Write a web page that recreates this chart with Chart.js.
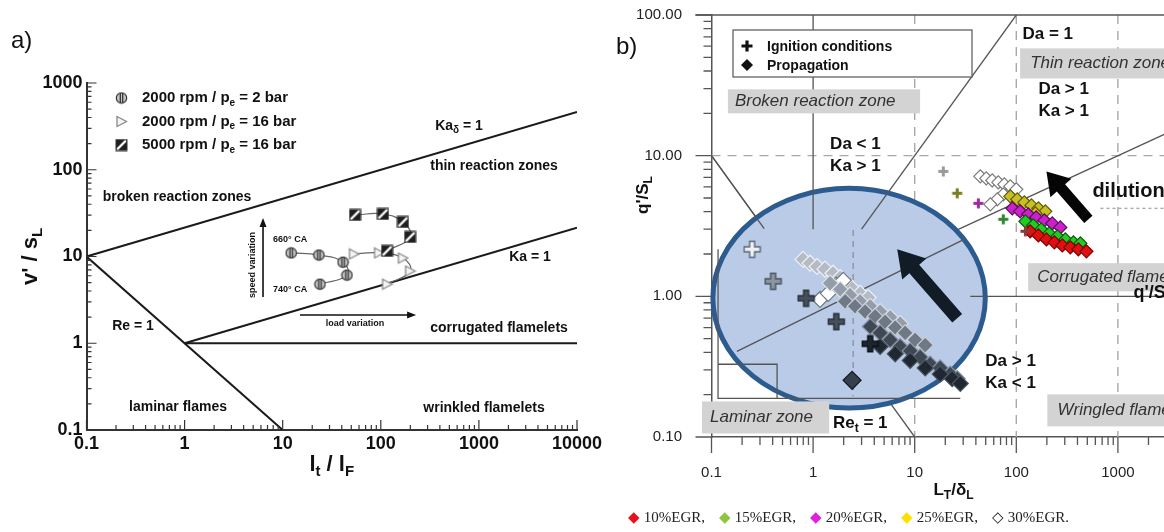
<!DOCTYPE html>
<html>
<head>
<meta charset="utf-8">
<script src="https://cdn.jsdelivr.net/npm/chart.js@4.4.0/dist/chart.umd.min.js"></script>
<style>
  html, body { margin: 0; padding: 0; background: #fff; overflow: hidden; }
  #wrap { position: relative; width: 1164px; height: 532px; overflow: hidden; }
  #chartA { position: absolute; left: 0; top: 0; }
  #chartB { position: absolute; left: 600px; top: 0; }
  .tag { position: absolute; font: 24px "Liberation Sans", Arial, sans-serif; color: #111; }
  #egr { position: absolute; left: 628px; top: 508px; font: 15px "Liberation Serif", "Times New Roman", serif; color: #222; white-space: nowrap; }
  #egr span.item { margin-right: 14px; }
</style>
</head>
<body>
<div id="wrap">
  <canvas id="chartA" width="610" height="532"></canvas>
  <canvas id="chartB" width="700" height="532"></canvas>
  <div class="tag" style="left:11px;top:26px;">a)</div>
  <div class="tag" style="left:616px;top:32px;">b)</div>
  <div id="egr"><span class="item"><span style="color:#e8101c">◆</span> 10%EGR,</span><span class="item"><span style="color:#8cc63f">◆</span> 15%EGR,</span><span class="item"><span style="color:#e020e0">◆</span> 20%EGR,</span><span class="item"><span style="color:#ffe000">◆</span> 25%EGR,</span><span>◇ 30%EGR.</span></div>
</div>
<script>
// ---------- panel a: regime diagram ----------
const ticksAX = [0.1, 1, 10, 100, 1000, 10000];
const ticksAY = [0.1, 1, 10, 100, 1000];

const kaDeltaX = [0.1, 10000];
const kaDeltaY = [10, 464];
const reAX = [0.1, 10];
const reAY = [10, 0.1];
const kaAX = [1, 10000];
const kaAY = [1, 21.5];
const flatAX = [1, 10000];
const flatAY = [1, 1];

const lowLoadX = [12.2, 23.4, 41.2, 45.2, 24.0];
const lowLoadY = [11.0, 10.4, 8.6, 6.1, 4.8];
const highLoadX = [53.3, 95.9, 168, 199, 116];
const highLoadY = [10.7, 11.0, 9.6, 6.8, 4.8];
const highSpeedX = [54.6, 105, 168, 199, 116];
const highSpeedY = [30.1, 30.9, 25.0, 16.8, 11.6];

// ---------- panel b: regime diagram with EGR points ----------
const ticksBX = [0.1, 1, 10, 100, 1000, 10000];
const ticksBY = [0.1, 1, 10, 100];

const egr10X = [137, 165, 198, 237, 284, 340, 408, 490];
const egr10Y = [2.90, 2.71, 2.54, 2.42, 2.30, 2.23, 2.16, 2.09];
const egr15X = [123, 147, 176, 211, 254, 304, 365, 427];
const egr15Y = [3.41, 3.20, 2.99, 2.80, 2.67, 2.54, 2.42, 2.38];
const egr20X = [91.4, 109, 131, 157, 189, 226, 271];
const egr20Y = [4.22, 4.02, 3.83, 3.64, 3.47, 3.30, 3.09];
const egr25X = [87.3, 102, 120, 141, 165, 193, 154];
const egr25Y = [5.14, 4.89, 4.66, 4.43, 4.22, 4.02, 3.89];
const egr30X = [44.2, 50.6, 58.0, 66.5, 76.2, 87.3, 100, 74.5, 65.0, 55.5];
const egr30Y = [7.13, 6.90, 6.67, 6.46, 6.25, 6.05, 5.76, 5.31, 4.89, 4.51];
const ignitionX = [19.1, 26.2, 42.3, 74.5, 123];
const ignitionY = [7.73, 5.40, 4.58, 3.53, 2.90];

// magnified (inset) view inside the blue circle
const insetLightX = [0.796, 0.933, 1.094, 1.31, 1.57, 1.85, 2.11, 2.42, 2.90, 3.48];
const insetLightY = [1.83, 1.72, 1.63, 1.56, 1.46, 1.36, 1.24, 1.14, 1.05, 0.98];
const insetWhiteX = [1.17, 1.41, 1.69, 1.98];
const insetWhiteY = [0.95, 1.05, 1.20, 1.30];
const insetGreyX = [1.47, 1.85, 2.31, 2.90, 3.65, 4.57, 5.74, 7.19];
const insetGreyY = [1.24, 1.12, 1.02, 0.92, 0.85, 0.78, 0.71, 0.64];
const insetMidX = [2.07, 2.59, 3.25, 4.08, 5.12, 6.43, 8.05, 10.1, 12.7];
const insetMidY = [0.92, 0.85, 0.78, 0.72, 0.66, 0.60, 0.55, 0.49, 0.45];
const insetDarkX = [3.65, 4.57, 5.74, 7.19, 9.03, 11.3, 14.2, 17.8, 22.4, 26.2];
const insetDarkY = [0.61, 0.55, 0.49, 0.44, 0.41, 0.37, 0.33, 0.31, 0.28, 0.26];
const insetDarkestX = [4.57, 6.43, 9.03, 12.7, 17.8, 23.4, 28.1];
const insetDarkestY = [0.44, 0.39, 0.35, 0.31, 0.28, 0.26, 0.24];
const insetIgnX = [0.251, 0.404, 0.853, 1.69, 3.65];
const insetIgnY = [2.16, 1.28, 0.97, 0.66, 0.46];
const insetPropX = [2.42];
const insetPropY = [0.253];

// regime boundaries of panel b
const kaOutX = [1, 10000];
const kaOutY = [1, 21.5];
const reBX = [0.1, 10];
const reBY = [10, 0.1];
const reTopX = [0.1, 0.33];
const reTopY = [10, 3.03];
const daX = [3, 100];
const daY = [3, 100];
const unityX = [1, 1];
const unityY = [3, 100];
const flatBX = [35.2, 10000];
const flatBY = [1, 1];
const kaInsetX = [0.178, 31];
const kaInsetY = [0.406, 2.55];
const frameX = [0.116, 0.116, 28.1];
const frameY = [2.16, 0.188, 0.188];
const cornerX = [0.116, 0.442, 0.442];
const cornerY = [0.329, 0.329, 0.188];
const markerX = [2.48, 2.48];
const markerY = [2.96, 0.195];

const FAMILY = '"Liberation Sans", Arial, Helvetica, sans-serif';
Chart.defaults.font.family = FAMILY;

function zip(xs, ys) {
  return xs.map((x, i) => ({ x, y: ys[i] }));
}

function makeSymbol(w, h, draw) {
  const c = document.createElement('canvas');
  c.width = w;
  c.height = h;
  draw(c.getContext('2d'));
  return c;
}

function makePlus(size, arm, fill, stroke) {
  return makeSymbol(size + 3, size + 3, (g) => {
    const o = 1.5, a = (size - arm) / 2;
    g.beginPath();
    g.moveTo(o + a, o); g.lineTo(o + a + arm, o); g.lineTo(o + a + arm, o + a);
    g.lineTo(o + size, o + a); g.lineTo(o + size, o + a + arm); g.lineTo(o + a + arm, o + a + arm);
    g.lineTo(o + a + arm, o + size); g.lineTo(o + a, o + size); g.lineTo(o + a, o + a + arm);
    g.lineTo(o, o + a + arm); g.lineTo(o, o + a); g.lineTo(o + a, o + a);
    g.closePath();
    g.fillStyle = fill;
    g.fill();
    if (stroke) {
      g.strokeStyle = stroke;
      g.lineWidth = 1.4;
      g.stroke();
    }
  });
}

const circSym = makeSymbol(13, 13, (g) => {
  g.beginPath();
  g.arc(6.5, 6.5, 5.2, 0, Math.PI * 2);
  g.fillStyle = '#c6c6c6';
  g.fill();
  g.strokeStyle = '#333';
  g.lineWidth = 1.2;
  g.stroke();
  g.beginPath();
  g.moveTo(5.3, 2); g.lineTo(5.3, 11);
  g.moveTo(7.7, 2); g.lineTo(7.7, 11);
  g.lineWidth = 1.3;
  g.stroke();
});
const triSym = makeSymbol(13, 13, (g) => {
  g.beginPath();
  g.moveTo(2, 1.5); g.lineTo(11.5, 6.5); g.lineTo(2, 11.5);
  g.closePath();
  g.fillStyle = '#f4f4f4';
  g.fill();
  g.strokeStyle = '#8a8a8a';
  g.lineWidth = 1.3;
  g.stroke();
});
const sqSym = makeSymbol(13, 13, (g) => {
  g.fillStyle = '#1e1e1e';
  g.fillRect(1, 1, 11, 11);
  g.strokeStyle = '#fff';
  g.lineWidth = 2.4;
  g.beginPath();
  g.moveTo(2, 11); g.lineTo(11, 2);
  g.stroke();
  g.strokeStyle = '#333';
  g.lineWidth = 1;
  g.strokeRect(1, 1, 11, 11);
});

// text with subscripts: parts = [[text, isSub], ...]
function rich(ctx, parts, x, y, size, opts = {}) {
  const fontOf = (sub) =>
    `${opts.italic ? 'italic ' : ''}${opts.weight || 'bold'} ${sub ? Math.round(size * 0.68) : size}px ${FAMILY}`;
  let total = 0;
  parts.forEach(([t, sub]) => {
    ctx.font = fontOf(sub);
    total += ctx.measureText(t).width;
  });
  let cx = opts.align === 'center' ? x - total / 2 : x;
  ctx.textAlign = 'left';
  ctx.textBaseline = 'middle';
  ctx.fillStyle = opts.color || '#111';
  parts.forEach(([t, sub]) => {
    ctx.font = fontOf(sub);
    ctx.fillText(t, cx, sub ? y + size * 0.33 : y);
    cx += ctx.measureText(t).width;
  });
}

function arrow(ctx, x1, y1, x2, y2, shaft, head, headLen, color) {
  const ang = Math.atan2(y2 - y1, x2 - x1);
  const len = Math.hypot(x2 - x1, y2 - y1);
  ctx.save();
  ctx.translate(x1, y1);
  ctx.rotate(ang);
  ctx.beginPath();
  ctx.moveTo(0, -shaft / 2);
  ctx.lineTo(len - headLen, -shaft / 2);
  ctx.lineTo(len - headLen, -head / 2);
  ctx.lineTo(len, 0);
  ctx.lineTo(len - headLen, head / 2);
  ctx.lineTo(len - headLen, shaft / 2);
  ctx.lineTo(0, shaft / 2);
  ctx.closePath();
  ctx.fillStyle = color;
  ctx.fill();
  ctx.restore();
}

function logTicks(ctx, scale, axisPos, vertical, dir, majorLen, minorLen) {
  const lo = Math.round(Math.log10(scale.min));
  const hi = Math.round(Math.log10(scale.max));
  ctx.beginPath();
  for (let e = lo; e <= hi; e++) {
    for (let k = 1; k <= 9; k++) {
      const v = k * Math.pow(10, e);
      if (v > scale.max * 1.0001) break;
      const p = scale.getPixelForValue(v);
      const len = k === 1 ? majorLen : minorLen;
      if (vertical) {
        ctx.moveTo(axisPos, p);
        ctx.lineTo(axisPos + dir * len, p);
      } else {
        ctx.moveTo(p, axisPos);
        ctx.lineTo(p, axisPos + dir * len);
      }
    }
  }
  ctx.stroke();
}

// log axis whose size is pinned so the plot area lands where the picture has it
function logAxis(min, max, values, fmt, font, color, padding, size, border) {
  return {
    type: 'logarithmic',
    min,
    max,
    afterBuildTicks: (s) => { s.ticks = values.map((v) => ({ value: v })); },
    afterFit: (s) => {
      if (s.isHorizontal()) s.height = size; else s.width = size;
      s.paddingTop = 0;
      s.paddingBottom = 0;
      s.paddingLeft = 0;
      s.paddingRight = 0;
    },
    grid: { display: false, drawTicks: false },
    border: border,
    ticks: { callback: fmt, font, color, padding, autoSkip: false, maxRotation: 0 },
  };
}

// ---------- panel a ----------
const labelsA = [
  { x: 0.837, y: 48.5, parts: [['broken reaction zones']], size: 14 },
  { x: 627, y: 319, parts: [['Ka'], ['δ', 1], [' = 1']], size: 14 },
  { x: 1426, y: 110, parts: [['thin reaction zones']], size: 14 },
  { x: 3319, y: 9.87, parts: [['Ka = 1']], size: 14 },
  { x: 1603, y: 1.50, parts: [['corrugated flamelets']], size: 14 },
  { x: 1127, y: 0.179, parts: [['wrinkled flamelets']], size: 14 },
  { x: 0.298, y: 1.58, parts: [['Re = 1']], size: 14 },
  { x: 0.857, y: 0.184, parts: [['laminar flames']], size: 14 },
  { x: 11.9, y: 15.5, parts: [['660° CA']], size: 9 },
  { x: 11.9, y: 4.11, parts: [['740° CA']], size: 9 },
  { x: 54.6, y: 1.71, parts: [['load variation']], size: 9 },
];
const legendA = [
  { sym: circSym, parts: [['2000 rpm / p'], ['e', 1], [' = 2 bar']] },
  { sym: triSym, parts: [['2000 rpm / p'], ['e', 1], [' = 16 bar']] },
  { sym: sqSym, parts: [['5000 rpm / p'], ['e', 1], [' = 16 bar']] },
];

const decorA = {
  id: 'decorA',
  afterDatasetsDraw(chart) {
    const { ctx, chartArea: area, scales: { x, y } } = chart;
    const px = (v) => x.getPixelForValue(v);
    const py = (v) => y.getPixelForValue(v);
    ctx.save();
    ctx.strokeStyle = '#333';
    ctx.lineWidth = 1.2;
    logTicks(ctx, y, area.left, true, 1, 10, 5);
    logTicks(ctx, x, area.bottom, false, -1, 10, 5);

    labelsA.forEach((l) => rich(ctx, l.parts, px(l.x), py(l.y), l.size, { align: 'center' }));

    // speed / load variation arrows
    arrow(ctx, px(6.3), py(3.41), px(6.3), py(27.8), 1.6, 7, 9, '#111');
    arrow(ctx, px(15.0), py(2.12), px(229), py(2.12), 1.6, 7, 9, '#111');
    ctx.save();
    ctx.translate(px(4.98), py(7.98));
    ctx.rotate(-Math.PI / 2);
    rich(ctx, [['speed variation']], 0, 0, 9, { align: 'center' });
    ctx.restore();

    // legend
    legendA.forEach((item, i) => {
      const cy = area.top + 15 + i * 23.5;
      ctx.drawImage(item.sym, area.left + 35 - item.sym.width / 2, cy - item.sym.height / 2);
      rich(ctx, item.parts, area.left + 55.5, cy, 15);
    });

    // axis titles
    rich(ctx, [['l'], ['t', 1], [' / l'], ['F', 1]], (area.left + area.right) / 2, area.bottom + 35, 22, { align: 'center' });
    ctx.save();
    ctx.translate(area.left - 56, (area.top + area.bottom) / 2);
    ctx.rotate(-Math.PI / 2);
    rich(ctx, [["v' / s"], ['L', 1]], 0, 0, 22, { align: 'center' });
    ctx.restore();
    ctx.restore();
  },
};

const boundaryA = (xs, ys) => ({
  data: zip(xs, ys), showLine: true, pointRadius: 0, borderColor: '#1a1a1a', borderWidth: 2, tension: 0,
});
const pathA = (xs, ys, sym) => ({
  data: zip(xs, ys), showLine: true, tension: 0.45, borderColor: '#666', borderWidth: 1.2,
  pointStyle: sym, pointRadius: 6,
});

new Chart(document.getElementById('chartA'), {
  type: 'scatter',
  data: {
    datasets: [
      pathA(highSpeedX, highSpeedY, sqSym),
      pathA(highLoadX, highLoadY, triSym),
      pathA(lowLoadX, lowLoadY, circSym),
      boundaryA(kaDeltaX, kaDeltaY),
      boundaryA(reAX, reAY),
      boundaryA(kaAX, kaAY),
      boundaryA(flatAX, flatAY),
    ],
  },
  options: {
    responsive: false,
    animation: false,
    layout: { padding: { left: 0, right: 33, top: 83, bottom: 42 } },
    plugins: { legend: { display: false }, tooltip: { enabled: false } },
    scales: {
      x: logAxis(0.1, 10000, ticksAX, (v) => String(v), { size: 18, weight: 'bold' }, '#111', 3, 60,
        { color: '#333', width: 2 }),
      y: logAxis(0.1, 1000, ticksAY, (v) => String(v), { size: 18, weight: 'bold' }, '#111', 4, 86.5,
        { color: '#333', width: 2 }),
    },
  },
  plugins: [decorA],
});

// ---------- panel b ----------
const textsB = [
  { x: 115, y: 72.8, parts: [['Da = 1']], size: 17 },
  { x: 165, y: 29.6, parts: [['Da > 1']], size: 17 },
  { x: 165, y: 20.6, parts: [['Ka > 1']], size: 17 },
  { x: 1.47, y: 12.0, parts: [['Da < 1']], size: 17 },
  { x: 1.47, y: 8.39, parts: [['Ka > 1']], size: 17 },
  { x: 49.5, y: 0.345, parts: [['Da > 1']], size: 17 },
  { x: 49.5, y: 0.241, parts: [['Ka < 1']], size: 17 },
  { x: 1.57, y: 0.125, parts: [['Re'], ['t', 1], [' = 1']], size: 17 },
  { x: 561, y: 5.58, parts: [['dilution']], size: 20 },
  { x: 1422, y: 1.05, parts: [["q'/S"], ['L', 1], [' = 1']], size: 18 },
];
const boxesB = [
  { x0: 0.145, x1: 11.3, y0: 29.6, y1: 20.0, tx: 0.170, text: 'Broken reaction zone' },
  { x0: 109, x1: 30000, y0: 57.9, y1: 35.4, tx: 137, text: 'Thin reaction zones' },
  { x0: 131, x1: 30000, y0: 1.72, y1: 1.085, tx: 161, text: 'Corrugated flamelets' },
  { x0: 202, x1: 30000, y0: 0.201, y1: 0.119, tx: 254, text: 'Wringled flamelets' },
  { x0: 0.0806, x1: 1.44, y0: 0.179, y1: 0.106, tx: 0.0967, text: 'Laminar zone' },
];
const lens = { cx: 2.26, cy: 0.97, xEdge: 49.5, yEdge: 5.86 };

const decorB = {
  id: 'decorB',
  beforeDatasetsDraw(chart) {
    const { ctx, chartArea: area, scales: { x, y } } = chart;
    chart.$lensDone = false;
    ctx.save();
    ctx.strokeStyle = '#a8a8a8';
    ctx.lineWidth = 1.4;
    ctx.setLineDash([9, 7]);
    ctx.beginPath();
    [10, 100, 1000].forEach((v) => {
      ctx.moveTo(x.getPixelForValue(v), area.top);
      ctx.lineTo(x.getPixelForValue(v), area.bottom);
    });
    ctx.moveTo(area.left, y.getPixelForValue(10));
    ctx.lineTo(area.right, y.getPixelForValue(10));
    ctx.stroke();
    ctx.setLineDash([3, 3]);
    ctx.beginPath();
    ctx.moveTo(x.getPixelForValue(673), y.getPixelForValue(4.22));
    ctx.lineTo(area.right, y.getPixelForValue(4.22));
    ctx.stroke();
    ctx.restore();
  },
  beforeDatasetDraw(chart, args) {
    if (chart.$lensDone || args.meta.order >= 2) return;
    chart.$lensDone = true;
    const { ctx, scales: { x, y } } = chart;
    const cx = x.getPixelForValue(lens.cx), cy = y.getPixelForValue(lens.cy);
    const rx = x.getPixelForValue(lens.xEdge) - cx, ry = cy - y.getPixelForValue(lens.yEdge);
    ctx.save();
    ctx.beginPath();
    ctx.ellipse(cx, cy, rx, ry, 0, 0, Math.PI * 2);
    ctx.fillStyle = '#b9cbe6';
    ctx.fill();
    ctx.lineWidth = 5;
    ctx.strokeStyle = '#2c5b8f';
    ctx.stroke();
    ctx.restore();
  },
  afterDatasetsDraw(chart) {
    const { ctx, chartArea: area, scales: { x, y } } = chart;
    const px = (v) => x.getPixelForValue(v);
    const py = (v) => y.getPixelForValue(v);
    ctx.save();

    arrow(ctx, px(26.2), py(0.698), px(6.73), py(2.16), 13, 32, 26, '#121c27');
    arrow(ctx, px(512), py(3.53), px(198), py(7.73), 11, 28, 22, '#050505');

    boxesB.forEach((b) => {
      ctx.fillStyle = '#d3d3d3';
      ctx.fillRect(px(b.x0), py(b.y0), px(b.x1) - px(b.x0), py(b.y1) - py(b.y0));
      rich(ctx, [[b.text]], px(b.tx), (py(b.y0) + py(b.y1)) / 2, 17, { italic: true, weight: 'normal', color: '#333' });
    });
    textsB.forEach((t) => rich(ctx, t.parts, px(t.x), py(t.y), t.size));

    // legend box
    const lx = area.left + 21.5, ly = area.top + 15;
    ctx.fillStyle = '#fff';
    ctx.fillRect(lx, ly, 239, 47);
    ctx.strokeStyle = '#555';
    ctx.lineWidth = 1.2;
    ctx.strokeRect(lx, ly, 239, 47);
    const plus = makePlus(11, 3.2, '#111');
    ctx.drawImage(plus, lx + 14 - plus.width / 2, ly + 16 - plus.height / 2);
    ctx.beginPath();
    ctx.moveTo(lx + 14, ly + 29); ctx.lineTo(lx + 20, ly + 35); ctx.lineTo(lx + 14, ly + 41); ctx.lineTo(lx + 8, ly + 35);
    ctx.closePath();
    ctx.fillStyle = '#111';
    ctx.fill();
    rich(ctx, [['Ignition conditions']], lx + 34, ly + 17, 14);
    rich(ctx, [['Propagation']], lx + 34, ly + 36, 14);
    ctx.restore();
  },
  afterDraw(chart) {
    const { ctx, chartArea: area, scales: { x, y } } = chart;
    ctx.save();
    ctx.strokeStyle = '#555';
    ctx.lineWidth = 1.3;
    logTicks(ctx, y, area.left, true, -1, 16, 8);
    logTicks(ctx, x, area.bottom, false, 1, 16, 8);
    ctx.beginPath();
    ctx.moveTo(area.left - 16, area.top);
    ctx.lineTo(area.right, area.top);
    ctx.stroke();
    rich(ctx, [['L'], ['T', 1], ['/δ'], ['L', 1]], (area.left + area.right) / 2 - 12, area.bottom + 53, 17, { align: 'center' });
    ctx.save();
    ctx.translate(area.left - 68, area.top + 180);
    ctx.rotate(-Math.PI / 2);
    rich(ctx, [["q'/S"], ['L', 1]], 0, 0, 17, { align: 'center' });
    ctx.restore();
    ctx.restore();
  },
};

const lineB = (xs, ys, extra) => Object.assign({
  data: zip(xs, ys), showLine: true, pointRadius: 0, borderColor: '#555', borderWidth: 1.3, tension: 0, order: 0,
}, extra);
const dotsB = (xs, ys, fill, edge, radius, extra) => Object.assign({
  data: zip(xs, ys), showLine: false, pointStyle: 'rectRot', pointRadius: radius,
  backgroundColor: fill, borderColor: edge, pointBorderWidth: 1.2, order: 0,
}, extra);

const outsidePlus = ['#9a9a9a', '#7d7d22', '#a02aa0', '#2f8a2f', '#8a3a3a'].map((c) => makePlus(10, 3, c));
const insetPlus = [
  makePlus(16, 5, '#edf1f7', '#5c6673'),
  makePlus(16, 5, '#8c96a3', '#4a525d'),
  makePlus(16, 5, '#46505c', '#2a3039'),
  makePlus(16, 5, '#46505c', '#2a3039'),
  makePlus(16, 5, '#1d252f', '#0d1218'),
];

new Chart(document.getElementById('chartB'), {
  type: 'scatter',
  data: {
    datasets: [
      dotsB(insetPropX, insetPropY, '#36404c', '#161b22', 9),
      { data: zip(insetIgnX, insetIgnY), showLine: false, pointStyle: insetPlus, pointRadius: 8, order: 0 },
      dotsB(insetDarkestX, insetDarkestY, '#1f2731', '#4b5461', 8),
      dotsB(insetDarkX, insetDarkY, '#3e4855', '#8a929e', 8),
      dotsB(insetMidX, insetMidY, '#6f7885', '#c8ced6', 8),
      dotsB(insetGreyX, insetGreyY, '#939ca8', '#dde2e8', 8),
      dotsB(insetWhiteX, insetWhiteY, '#ffffff', '#6d7682', 8),
      dotsB(insetLightX, insetLightY, '#b4bbc5', '#eef1f5', 8),
      { data: zip(ignitionX, ignitionY), showLine: false, pointStyle: outsidePlus, pointRadius: 6, order: 0 },
      dotsB(egr10X, egr10Y, '#e01010', '#7a0000', 6.5),
      dotsB(egr15X, egr15Y, '#20cc20', '#0a5a0a', 6.5),
      dotsB(egr20X, egr20Y, '#cc20cc', '#5a0a5a', 6.5),
      dotsB(egr25X, egr25Y, '#c8bf20', '#5d5a10', 6.5),
      dotsB(egr30X, egr30Y, '#ffffff', '#777777', 6.5),
      lineB(markerX, markerY, { borderColor: '#8a94a2', borderDash: [6, 5], borderWidth: 1.4 }),
      lineB(kaInsetX, kaInsetY),
      lineB(frameX, frameY),
      lineB(cornerX, cornerY),
      lineB(flatBX, flatBY),
      lineB(unityX, unityY),
      lineB(daX, daY),
      lineB(reTopX, reTopY),
      lineB(reBX, reBY, { order: 2 }),
      lineB(kaOutX, kaOutY, { order: 2 }),
    ],
  },
  options: {
    responsive: false,
    animation: false,
    layout: { padding: { left: 0, right: 80.5, top: 15, bottom: 45 } },
    plugins: { legend: { display: false }, tooltip: { enabled: false } },
    scales: {
      x: logAxis(0.1, 10000, ticksBX, (v) => String(v), { size: 15 }, '#222', 27, 50,
        { color: '#555', width: 1.5 }),
      y: logAxis(0.1, 100, ticksBY, (v) => Number(v).toFixed(2), { size: 15 }, '#222', 29.5, 111.5,
        { color: '#555', width: 1.5 }),
    },
  },
  plugins: [decorB],
});
</script>
</body>
</html>
